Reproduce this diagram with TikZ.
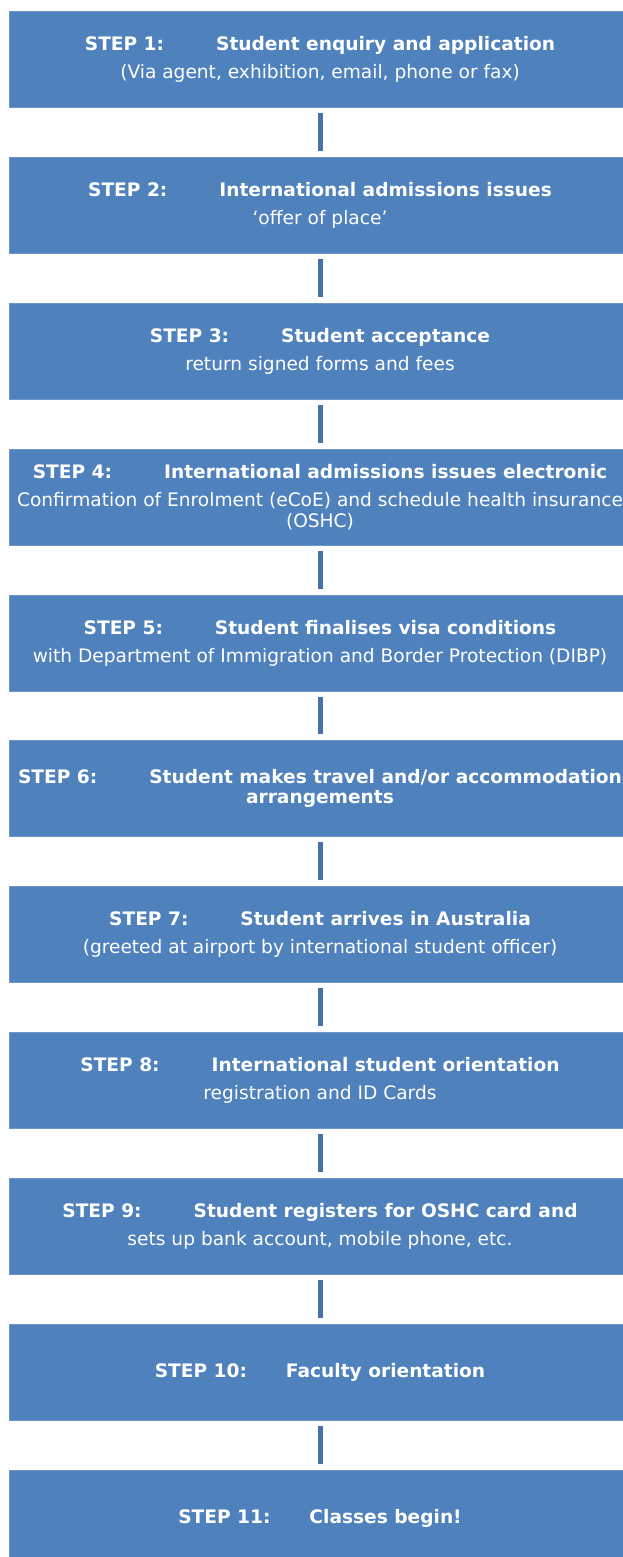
\documentclass[tikz,border=0pt]{standalone}
\usepackage{fontspec}
\setmainfont{DejaVu Sans}
\definecolor{boxblue}{HTML}{4F81BD}
\definecolor{boxedge}{HTML}{7096C8}
\definecolor{linkblue}{HTML}{4572AA}
\begin{document}
\begin{tikzpicture}[x=1pt,y=-1pt,
  stepbox/.style={rectangle, fill=boxblue, draw=boxedge, line width=0.8pt,
    minimum width=622pt, minimum height=96pt, inner sep=0pt,
    text=white, align=center,
    font=\fontsize{18.6}{21}\selectfont},
  link/.style={draw=linkblue, line width=5pt, shorten <=6pt, shorten >=6pt}]
\useasboundingbox (0,0) rectangle (622,1557);
\newcommand{\stp}[2]{\textbf{STEP #1:\hspace{52pt}#2}}
\node[stepbox] (s1) at (320,59) {\stp{1}{Student enquiry and application}\\[7pt](Via agent, exhibition, email, phone or fax)};
\node[stepbox] (s2) at (320,205) {\stp{2}{International admissions issues}\\[7pt]`offer of place'};
\node[stepbox] (s3) at (320,351) {\stp{3}{Student acceptance}\\[7pt]return signed forms and fees};
\node[stepbox] (s4) at (320,497) {\stp{4}{International admissions issues electronic}\\[7pt]Confirmation of Enrolment (eCoE) and schedule health insurance\\(OSHC)};
\node[stepbox] (s5) at (320,643) {\stp{5}{Student finalises visa conditions}\\[7pt]with Department of Immigration and Border Protection (DIBP)};
\node[stepbox] (s6) at (320,788) {\stp{6}{Student makes travel and/or accommodation}\\[-1pt]\textbf{arrangements}};
\node[stepbox] (s7) at (320,934) {\stp{7}{Student arrives in Australia}\\[7pt](greeted at airport by international student officer)};
\node[stepbox] (s8) at (320,1080) {\stp{8}{International student orientation}\\[7pt]registration and ID Cards};
\node[stepbox] (s9) at (320,1226) {\stp{9}{Student registers for OSHC card and}\\[7pt]sets up bank account, mobile phone, etc.};
\node[stepbox] (s10) at (320,1372) {\textbf{STEP 10:\hspace{39pt}Faculty orientation}};
\node[stepbox] (s11) at (320,1518) {\textbf{STEP 11:\hspace{39pt}Classes begin!}};
\foreach \a/\b in {s1/s2,s2/s3,s3/s4,s4/s5,s5/s6,s6/s7,s7/s8,s8/s9,s9/s10,s10/s11}
  \draw[link] (\a.south) -- (\b.north);
\end{tikzpicture}
\end{document}
